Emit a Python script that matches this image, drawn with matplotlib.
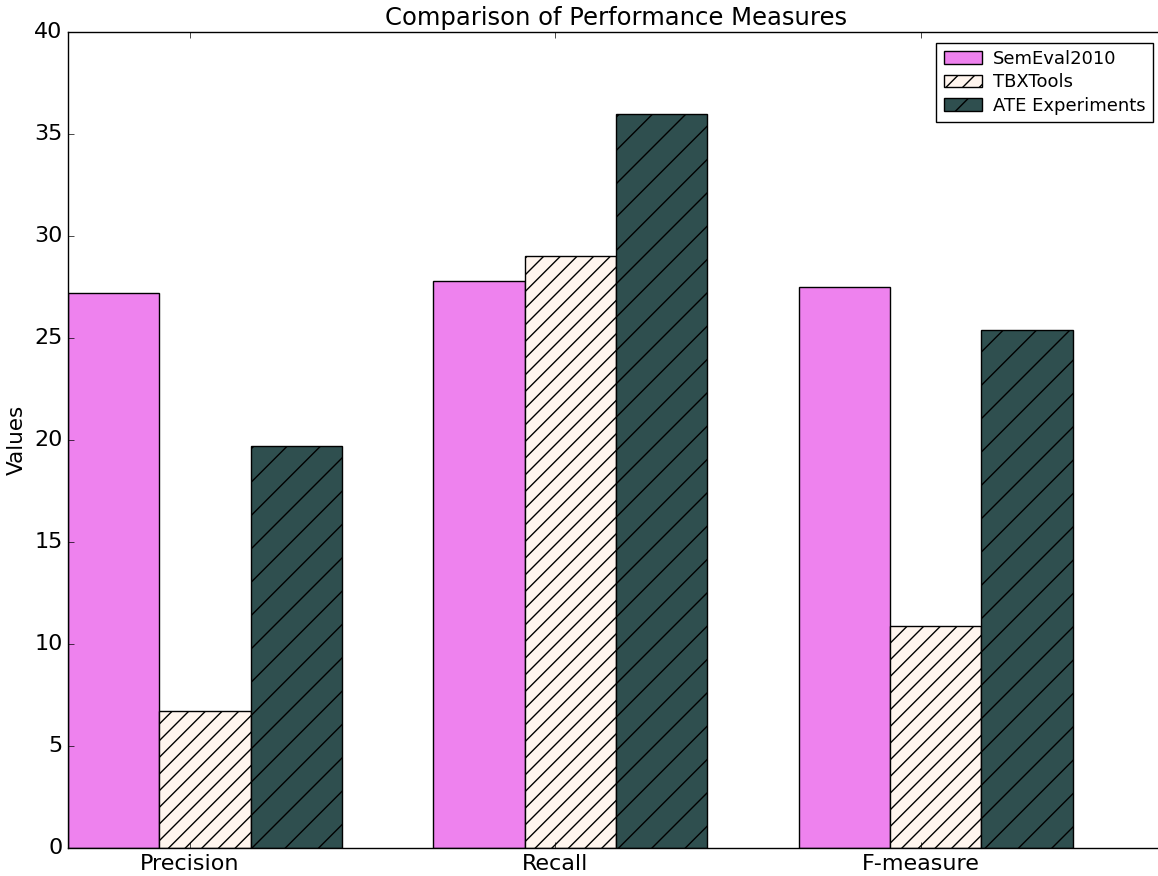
import matplotlib
matplotlib.use("Agg")
import matplotlib.pyplot as plt
import numpy as np

plt.style.use('classic')

categories = ["Precision", "Recall", "F-measure"]
series_names = ["SemEval2010", "TBXTools", "ATE Experiments"]
semeval = [27.2, 27.8, 27.5]
tbxtools = [6.7, 29.0, 10.9]
ate = [19.7, 36.0, 25.4]

colors = ["violet", "seashell", "darkslategray"]
hatches = [None, "//", "/"]

fig = plt.figure(figsize=(11.58, 8.76), dpi=100, facecolor="white")
ax = fig.add_axes([68/1158, 28/876, 1096/1158, 816/876])

ind = np.arange(len(categories))
width = 0.25
for i, (vals, name) in enumerate(zip([semeval, tbxtools, ate], series_names)):
    ax.bar(ind + i*width, vals, width, color=colors[i], hatch=hatches[i],
           edgecolor="black", linewidth=1.0, label=name, align="edge")

ax.set_xlim(0, 3)
ax.set_ylim(0, 40)
ax.set_xticks(ind + width*1.335)
ax.set_xticklabels(categories, fontsize=16)
ax.tick_params(axis='y', labelsize=16)
ax.set_ylabel("Values", fontsize=15.5)
ax.set_title("Comparison of Performance Measures", fontsize=17.5)
ax.legend(loc="upper right", fontsize=13, labelspacing=0.3,
          borderaxespad=0.6, handlelength=2.1, handletextpad=0.65)

fig.savefig("out.png", dpi=100, facecolor="white")
